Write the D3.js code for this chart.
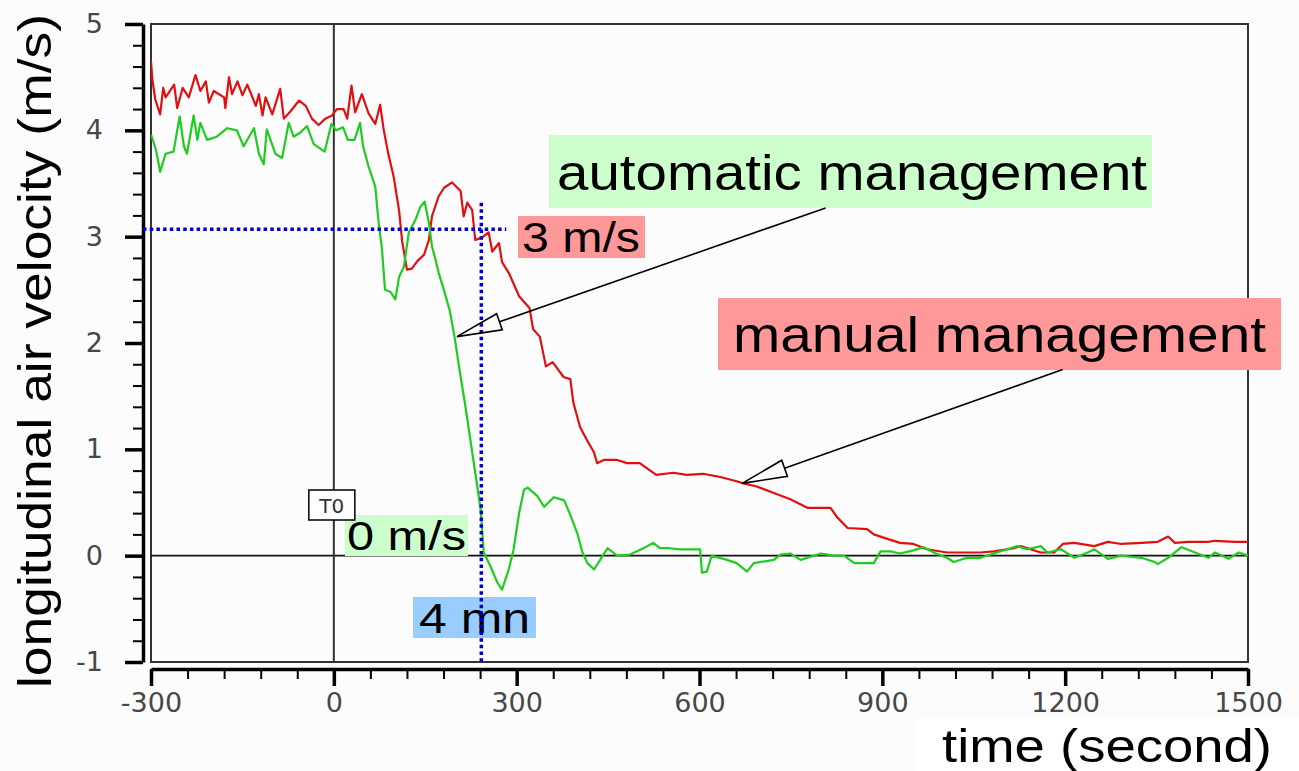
<!DOCTYPE html>
<html lang="en">
<head>
<meta charset="utf-8">
<title>Longitudinal air velocity</title>
<script src="https://cdn.jsdelivr.net/npm/d3@7/dist/d3.min.js"></script>
<style>
  body { margin: 0; background: #fcfcfc; }
  svg { display: block; }
  .note { font-family: "Liberation Sans", Arial, sans-serif; fill: #000; }
</style>
</head>
<body>
<script>
// --- data ---
const timeTicks = [-300, 0, 300, 600, 900, 1200, 1500];
const velTicks = [-1, 0, 1, 2, 3, 4, 5];

// manual management (red)
const manualTime = [-300, -298, -293, -285, -280, -276, -262, -257, -248, -238, -227, -219, -210, -205, -197, -180, -178, -172, -167, -158, -150, -142, -128, -123, -117, -112, -101, -88, -82, -71, -57, -46, -36, -25, -14, -3, 5, 16, 22, 29, 35, 46, 57, 68, 76, 82, 90, 98, 107, 112, 120, 128, 137, 148, 156, 161, 172, 181, 194, 208, 213, 219, 227, 232, 243, 254, 260, 271, 276, 287, 304, 321, 327, 338, 348, 359, 377, 388, 393, 404, 415, 427, 432, 443, 465, 481, 502, 529, 557, 579, 606, 634, 661, 672, 694, 722, 749, 777, 815, 826, 843, 875, 886, 907, 929, 951, 973, 1006, 1061, 1083, 1116, 1127, 1160, 1182, 1196, 1215, 1248, 1270, 1292, 1325, 1352, 1369, 1380, 1402, 1435, 1446, 1479, 1500];
const manualVel = [4.65, 4.49, 4.29, 4.15, 4.40, 4.31, 4.43, 4.21, 4.40, 4.31, 4.52, 4.37, 4.46, 4.26, 4.37, 4.31, 4.21, 4.50, 4.34, 4.46, 4.33, 4.43, 4.23, 4.34, 4.14, 4.31, 4.15, 4.39, 4.11, 4.18, 4.28, 4.23, 4.11, 4.05, 4.11, 4.14, 4.20, 4.20, 4.11, 4.42, 4.17, 4.34, 4.16, 4.06, 4.24, 4.00, 3.76, 3.57, 3.25, 2.96, 2.69, 2.70, 2.77, 2.83, 2.97, 3.19, 3.38, 3.46, 3.51, 3.43, 3.19, 3.32, 3.25, 2.97, 2.99, 3.04, 2.86, 2.94, 2.76, 2.66, 2.44, 2.33, 2.13, 2.06, 1.78, 1.82, 1.68, 1.66, 1.44, 1.21, 1.09, 0.97, 0.87, 0.90, 0.90, 0.87, 0.87, 0.76, 0.78, 0.76, 0.77, 0.74, 0.70, 0.68, 0.65, 0.59, 0.53, 0.45, 0.45, 0.36, 0.26, 0.25, 0.20, 0.16, 0.12, 0.11, 0.06, 0.03, 0.03, 0.04, 0.07, 0.09, 0.03, 0.03, 0.11, 0.12, 0.09, 0.13, 0.11, 0.12, 0.13, 0.18, 0.12, 0.13, 0.13, 0.14, 0.13, 0.13];

// automatic management (green)
const autoTime = [-300, -292, -285, -276, -263, -253, -246, -241, -230, -224, -219, -208, -192, -175, -159, -148, -131, -123, -115, -110, -96, -85, -74, -66, -55, -44, -33, -15, -4, 4, 15, 23, 34, 43, 48, 57, 68, 73, 79, 84, 93, 101, 107, 115, 123, 134, 142, 149, 156, 161, 167, 172, 179, 190, 198, 207, 216, 224, 232, 241, 246, 257, 268, 276, 287, 295, 304, 312, 318, 334, 345, 361, 378, 389, 400, 408, 416, 427, 438, 449, 465, 486, 508, 524, 535, 551, 568, 601, 604, 612, 620, 645, 661, 678, 689, 722, 733, 749, 766, 799, 821, 837, 854, 886, 897, 913, 929, 951, 968, 984, 1006, 1017, 1039, 1061, 1088, 1105, 1121, 1138, 1160, 1171, 1193, 1215, 1237, 1248, 1270, 1292, 1325, 1347, 1352, 1369, 1391, 1413, 1435, 1446, 1468, 1485, 1500];
const autoVel = [3.96, 3.82, 3.61, 3.78, 3.80, 4.13, 3.85, 3.78, 4.14, 3.91, 4.07, 3.91, 3.94, 4.02, 4.00, 3.85, 4.02, 3.78, 3.68, 4.01, 3.78, 3.74, 4.07, 3.94, 3.98, 4.04, 3.87, 3.80, 4.06, 4.00, 4.03, 3.91, 3.91, 4.07, 3.85, 3.66, 3.47, 3.16, 2.88, 2.50, 2.48, 2.41, 2.62, 2.72, 3.04, 3.16, 3.28, 3.33, 3.13, 2.91, 2.78, 2.66, 2.53, 2.31, 2.06, 1.72, 1.40, 1.09, 0.78, 0.43, 0.03, -0.10, -0.25, -0.32, -0.13, 0.06, 0.40, 0.62, 0.64, 0.56, 0.46, 0.55, 0.52, 0.37, 0.20, 0.03, -0.07, -0.13, -0.03, 0.07, 0.00, 0.01, 0.07, 0.12, 0.07, 0.07, 0.06, 0.06, -0.16, -0.15, 0.00, -0.04, -0.07, -0.15, -0.07, -0.04, 0.01, 0.02, -0.04, 0.02, 0.00, 0.00, -0.07, -0.07, 0.04, 0.04, 0.02, 0.05, 0.08, 0.03, -0.02, -0.06, -0.02, -0.02, 0.03, 0.06, 0.09, 0.06, 0.09, 0.03, 0.06, -0.02, 0.03, 0.06, -0.03, 0.00, -0.02, -0.06, -0.08, -0.02, 0.08, 0.03, -0.02, 0.03, -0.03, 0.03, 0.00];

// guides and arrows (data units)
const guideVel = 3.07, guideTime = 242, guideEnd = 283, guideTop = 3.32;
const autoArrow = { tip: [202, 2.06], tail: [807, 3.27] };
const manualArrow = { tip: [670, 0.68], tail: [1196, 1.75] };

const W = 1299, H = 771;
const x = d3.scaleLinear().domain([-300, 1500]).range([151, 1248]);
const y = d3.scaleLinear().domain([-1, 5]).range([662, 24]);
const plain = d => String(d);

const svg = d3.select("body").append("svg").attr("width", W).attr("height", H);

function styleTickText(sel) {
    sel.style("font-family", "'DejaVu Sans', Verdana, sans-serif")
        .style("font-size", "27px")
        .style("fill", "#474747");
}

// white box behind the x title
svg.append("rect").attr("x", 915).attr("y", 718).attr("width", W - 915).attr("height", H - 718).attr("fill", "#fff");

// frame of the plot
svg.append("rect")
    .attr("x", x(-300)).attr("y", y(5))
    .attr("width", x(1500) - x(-300)).attr("height", y(-1) - y(5))
    .attr("fill", "none").attr("stroke", "#333").attr("stroke-width", 2);

// zero lines
svg.append("line").attr("x1", x(-300)).attr("x2", x(1500)).attr("y1", y(0)).attr("y2", y(0))
    .attr("stroke", "#111").attr("stroke-width", 1.6);
svg.append("line").attr("x1", x(0)).attr("x2", x(0)).attr("y1", y(5)).attr("y2", y(-1))
    .attr("stroke", "#333").attr("stroke-width", 2);

// x axis (below the frame)
const xAxisY = y(-1) + 7;
const xMinor = d3.range(-300, 1501, 60);
svg.append("g").attr("transform", "translate(0," + xAxisY + ")")
    .call(d3.axisBottom(x).tickValues(xMinor).tickSize(10).tickFormat(""))
    .call(g => g.selectAll(".tick line").attr("stroke", "#000").attr("stroke-width", 2))
    .call(g => g.select(".domain").remove());
const gx = svg.append("g").attr("transform", "translate(0," + xAxisY + ")")
    .call(d3.axisBottom(x).tickValues(timeTicks).tickFormat(plain).tickSize(17).tickPadding(6).tickSizeOuter(0));
gx.select(".domain").attr("stroke", "#000").attr("stroke-width", 3.5);
gx.selectAll(".tick line").attr("stroke", "#000").attr("stroke-width", 3.5);
gx.selectAll(".tick text").attr("dy", "0.75em").call(styleTickText);

// y axis (left of the frame)
const yAxisX = x(-300) - 8;
const yMinor = d3.range(-1, 5.001, 0.2);
svg.append("g").attr("transform", "translate(" + yAxisX + ",0)")
    .call(d3.axisLeft(y).tickValues(yMinor).tickSize(10).tickFormat(""))
    .call(g => g.selectAll(".tick line").attr("stroke", "#000").attr("stroke-width", 2))
    .call(g => g.select(".domain").remove());
const gy = svg.append("g").attr("transform", "translate(" + yAxisX + ",0)")
    .call(d3.axisLeft(y).tickValues(velTicks).tickFormat(plain).tickSize(18).tickPadding(22).tickSizeOuter(0));
gy.select(".domain").attr("stroke", "#000").attr("stroke-width", 3.5);
gy.selectAll(".tick line").attr("stroke", "#000").attr("stroke-width", 3.5);
gy.selectAll(".tick text").call(styleTickText);

// axis titles
svg.append("text").attr("class", "note")
    .attr("transform", "translate(51,688) rotate(-90)")
    .attr("font-size", 47).attr("textLength", 674).attr("lengthAdjust", "spacingAndGlyphs")
    .text("longitudinal air velocity (m/s)");
svg.append("text").attr("class", "note")
    .attr("x", 942).attr("y", 762)
    .attr("font-size", 46).attr("textLength", 330).attr("lengthAdjust", "spacingAndGlyphs")
    .text("time (second)");

// label boxes
const notes = [
    { text: "automatic management", box: [549, 135, 603, 73], fill: "#ccffcc", tx: 557, ty: 190, size: 50, len: 590 },
    { text: "3 m/s", box: [518, 216, 127, 42], fill: "#ff9999", tx: 522, ty: 252, size: 42, len: 118 },
    { text: "manual management", box: [718, 298, 563, 72], fill: "#ff9999", tx: 733, ty: 352, size: 50, len: 533 },
    { text: "0 m/s", box: [345, 515, 123, 41], fill: "#ccffcc", tx: 347, ty: 550, size: 40, len: 119 },
    { text: "4 mn", box: [413, 597, 123, 41], fill: "#99ccff", tx: 419, ty: 633, size: 42, len: 111 }
];
const ng = svg.selectAll(".notebox").data(notes).enter().append("g").attr("class", "notebox");
ng.append("rect")
    .attr("x", d => d.box[0]).attr("y", d => d.box[1])
    .attr("width", d => d.box[2]).attr("height", d => d.box[3])
    .attr("fill", d => d.fill);
ng.append("text").attr("class", "note")
    .attr("x", d => d.tx).attr("y", d => d.ty)
    .attr("font-size", d => d.size)
    .attr("textLength", d => d.len).attr("lengthAdjust", "spacingAndGlyphs")
    .text(d => d.text);

// T0 marker
svg.append("rect").attr("x", x(0) - 25).attr("y", 490).attr("width", 46).attr("height", 30)
    .attr("fill", "#fff").attr("stroke", "#000").attr("stroke-width", 1.5);
svg.append("text").attr("x", x(0) - 2).attr("y", 513).attr("text-anchor", "middle")
    .attr("font-family", "DejaVu Sans, sans-serif").attr("font-size", 20).attr("fill", "#333")
    .text("T0");

// curves
svg.append("clipPath").attr("id", "plot").append("rect")
    .attr("x", x(-300)).attr("y", y(5)).attr("width", x(1500) - x(-300)).attr("height", y(-1) - y(5));

const line = d3.line().x(d => x(d[0])).y(d => y(d[1]));
const manualPts = manualTime.map((t, i) => [t, manualVel[i]]);
const autoPts = autoTime.map((t, i) => [t, autoVel[i]]);

svg.append("path").datum(manualPts).attr("d", line).attr("clip-path", "url(#plot)")
    .attr("fill", "none").attr("stroke", "#e01010").attr("stroke-width", 2.2).attr("stroke-linejoin", "round");
svg.append("path").datum(autoPts).attr("d", line).attr("clip-path", "url(#plot)")
    .attr("fill", "none").attr("stroke", "#1fcc1f").attr("stroke-width", 2.2).attr("stroke-linejoin", "round");

// blue dotted guides
svg.append("line")
    .attr("x1", yAxisX).attr("x2", x(guideEnd)).attr("y1", y(guideVel)).attr("y2", y(guideVel))
    .attr("stroke", "#0000cc").attr("stroke-width", 3.5).attr("stroke-dasharray", "3.5,3.2");
svg.append("line")
    .attr("x1", x(guideTime)).attr("x2", x(guideTime)).attr("y1", y(guideTop)).attr("y2", y(-1))
    .attr("stroke", "#0000cc").attr("stroke-width", 3.5).attr("stroke-dasharray", "3.5,3.2");

// arrows with open triangular heads
function arrow(a) {
    const tx = x(a.tip[0]), ty = y(a.tip[1]);
    const sx = x(a.tail[0]), sy = y(a.tail[1]);
    const dx = sx - tx, dy = sy - ty, len = Math.hypot(dx, dy);
    const ux = dx / len, uy = dy / len;
    const hl = 45, hw = 8.5;
    const bx = tx + ux * hl, by = ty + uy * hl;
    svg.append("path")
        .attr("d", "M" + tx + "," + ty + "L" + (bx - uy * hw) + "," + (by + ux * hw) +
            "L" + (bx + uy * hw) + "," + (by - ux * hw) + "Z")
        .attr("fill", "none").attr("stroke", "#000").attr("stroke-width", 1.6);
    svg.append("line").attr("x1", bx).attr("y1", by).attr("x2", sx).attr("y2", sy)
        .attr("stroke", "#000").attr("stroke-width", 1.6);
}
arrow(autoArrow);
arrow(manualArrow);
</script>
</body>
</html>
